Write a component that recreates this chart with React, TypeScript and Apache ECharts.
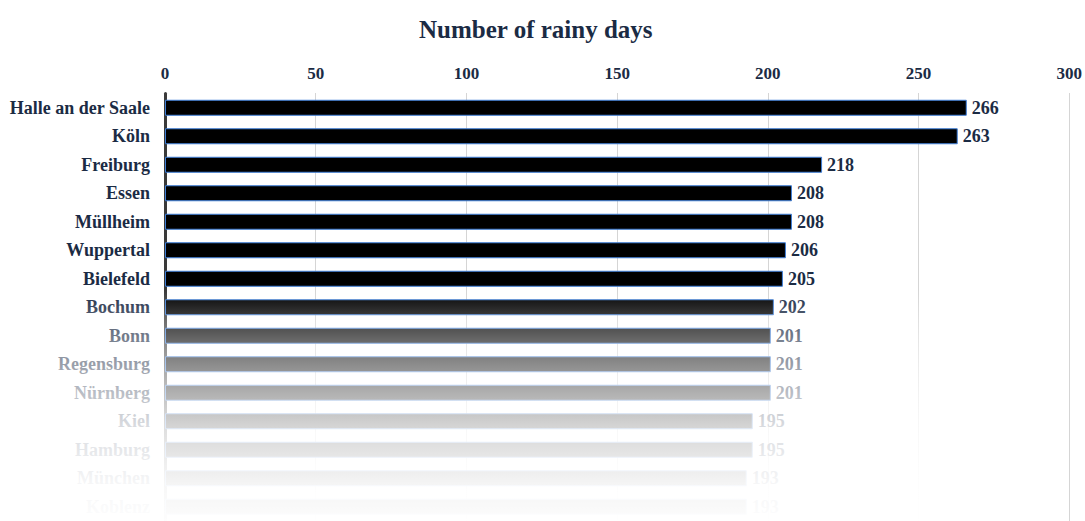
import React, { useEffect, useRef } from "react";
import * as echarts from "echarts";

const cities = [
  "Halle an der Saale", "Köln", "Freiburg", "Essen", "Müllheim", "Wuppertal",
  "Bielefeld", "Bochum", "Bonn", "Regensburg", "Nürnberg", "Kiel", "Hamburg",
  "München", "Koblenz",
];
const rainyDays = [266, 263, 218, 208, 208, 206, 205, 202, 201, 201, 201, 195, 195, 193, 193];
const xTicks = [0, 50, 100, 150, 200, 250, 300];

const NAVY = "#1b2b44";
const FONT = "'Liberation Serif', 'Times New Roman', serif";

export default function App() {
  const ref = useRef<HTMLDivElement>(null);
  useEffect(() => {
    document.body.style.margin = "0";
    const chart = echarts.init(ref.current!, null, { renderer: "svg" });
    chart.setOption({
      animation: false,
      backgroundColor: "#fff",
      title: {
        text: "Number of rainy days",
        left: 414,
        top: 12,
        textStyle: { fontFamily: FONT, fontWeight: "bold", fontSize: 25, color: NAVY },
      },
      grid: { left: 165, width: 905, top: 93.5, height: 434, containLabel: false },
      xAxis: {
        type: "value",
        position: "top",
        min: xTicks[0],
        max: xTicks[xTicks.length - 1],
        interval: 50,
        axisLine: { show: false },
        axisTick: { show: false },
        axisLabel: {
          margin: 12,
          fontFamily: FONT,
          fontWeight: "bold",
          fontSize: 17,
          color: NAVY,
        },
        splitLine: { show: true, lineStyle: { type: "dotted", color: "#aaa", width: 1 } },
      },
      yAxis: {
        type: "category",
        inverse: true,
        data: cities,
        axisLine: { show: true, lineStyle: { color: "#3a3a3a", width: 3 } },
        axisTick: { show: false },
        axisLabel: {
          margin: 15,
          fontFamily: FONT,
          fontWeight: "bold",
          fontSize: 18,
          color: NAVY,
        },
      },
      series: [
        {
          type: "bar",
          data: rainyDays,
          barWidth: 16,
          itemStyle: { color: "#000", borderColor: "#3f7fd8", borderWidth: 1 },
          label: {
            show: true,
            position: "right",
            distance: 5,
            fontFamily: FONT,
            fontWeight: "bold",
            fontSize: 18,
            color: NAVY,
          },
        },
      ],
      graphic: [
        {
          type: "rect",
          z: 100,
          silent: true,
          shape: { x: 0, y: 290, width: 1064, height: 231 },
          style: {
            fill: new echarts.graphic.LinearGradient(0, 0, 0, 1, [
              { offset: 0, color: "rgba(255,255,255,0)" },
              { offset: 0.087, color: "rgba(255,255,255,0.18)" },
              { offset: 0.212, color: "rgba(255,255,255,0.4)" },
              { offset: 0.338, color: "rgba(255,255,255,0.57)" },
              { offset: 0.463, color: "rgba(255,255,255,0.71)" },
              { offset: 0.589, color: "rgba(255,255,255,0.83)" },
              { offset: 0.714, color: "rgba(255,255,255,0.9)" },
              { offset: 0.84, color: "rgba(255,255,255,0.96)" },
              { offset: 1, color: "rgba(255,255,255,0.99)" },
            ]),
          },
        },
      ],
    });
    return () => chart.dispose();
  }, []);
  return <div ref={ref} style={{ width: 1085, height: 521 }} />;
}
